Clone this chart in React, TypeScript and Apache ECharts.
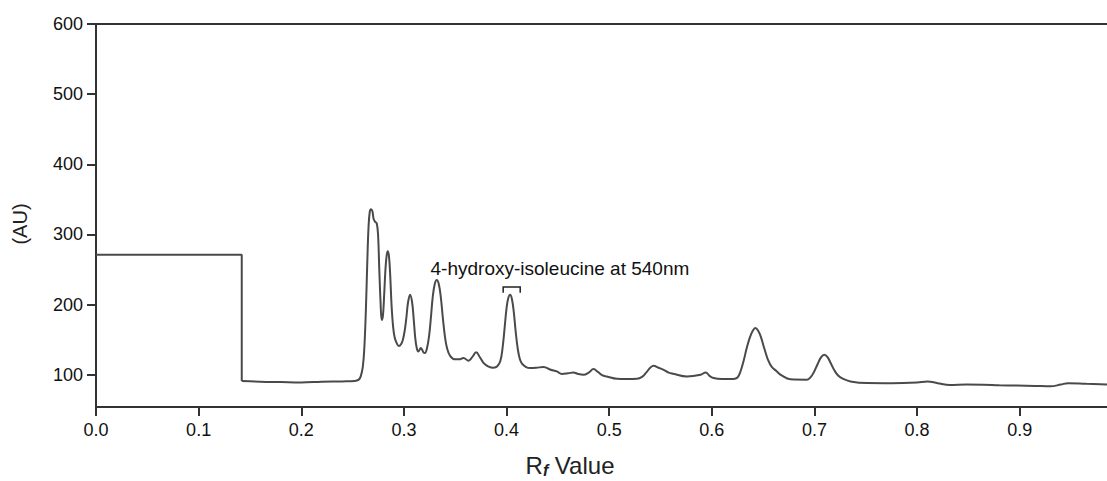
import React, { useEffect, useRef } from "react";
import * as echarts from "echarts";

// Step (plateau) part of the densitogram
const stepRf = [0, 0.142, 0.142];
const stepAU = [271, 271, 91];

// Peak trace (Rf value, absorbance units)
const rfValues = [
  0.142, 0.16, 0.18, 0.2, 0.22, 0.24, 0.252, 0.256,
  0.258, 0.26, 0.2615, 0.263, 0.2643, 0.2655, 0.2667, 0.268, 0.2693, 0.2705, 0.272, 0.2735,
  0.2748, 0.276, 0.2772, 0.2784, 0.2796, 0.2808, 0.282, 0.2832, 0.2843, 0.2855, 0.2867, 0.288,
  0.2895, 0.291, 0.293, 0.295, 0.297, 0.299, 0.301, 0.3025, 0.304, 0.306, 0.308, 0.3095, 0.311,
  0.3125, 0.314, 0.3165, 0.319, 0.3205, 0.3225, 0.3245, 0.3265, 0.328, 0.33, 0.332, 0.334, 0.336,
  0.338, 0.34, 0.342, 0.345, 0.35, 0.354, 0.358, 0.3629, 0.3665, 0.3704, 0.374, 0.3775, 0.382,
  0.3873, 0.391, 0.394, 0.396, 0.398, 0.4, 0.4018, 0.4035, 0.4052, 0.407, 0.409, 0.411, 0.413,
  0.415, 0.419, 0.423, 0.429, 0.436, 0.443, 0.449, 0.4539, 0.46, 0.465, 0.47, 0.475, 0.48, 0.4847,
  0.489, 0.4935, 0.4977, 0.5075, 0.517, 0.527, 0.532, 0.536, 0.54, 0.5432, 0.548, 0.553, 0.558,
  0.5624, 0.5757, 0.589, 0.594, 0.598, 0.6017, 0.61, 0.621, 0.625, 0.628, 0.631, 0.634, 0.637,
  0.64, 0.6423, 0.645, 0.648, 0.651, 0.6545, 0.658, 0.6633, 0.668, 0.6764, 0.6927, 0.6965, 0.6995,
  0.703, 0.7065, 0.7096, 0.7127, 0.716, 0.7195, 0.723, 0.728, 0.735, 0.751, 0.775, 0.8, 0.81, 0.82,
  0.832, 0.848, 0.8645, 0.88, 0.897, 0.915, 0.93, 0.94, 0.947, 0.965, 0.985,
];
const intensity = [
  91, 90, 89.5, 89, 90, 90.5, 91, 93,
  98, 112, 140, 195, 260, 310, 332, 336, 333, 322, 318, 316,
  300, 250, 205, 178, 185, 215, 250, 270, 276, 268, 240, 198,
  168, 153, 145, 141, 143, 150, 165, 183, 203, 214, 203, 180, 153,
  138, 133, 138, 132, 131, 138, 155, 185, 210, 229, 235, 229, 210,
  180, 154, 138, 127, 122, 122, 124, 120, 125, 132, 125, 117, 112,
  110, 112, 120, 137, 165, 195, 210, 214, 208, 190, 160, 136, 122,
  116, 111, 109.6, 110, 111, 107, 104.7, 101, 102, 103.3, 101, 100, 103, 108,
  104, 99, 97.6, 94.3, 94, 94.3, 97, 103, 110, 112.8, 110, 107, 103,
  101.4, 97.6, 100, 103.3, 98, 95.3, 94, 93.9, 96, 105, 120, 138, 153,
  163, 166.5, 163, 153, 138, 122, 112, 104.7, 99, 93.5, 93, 97, 104,
  115, 125, 128.5, 125, 116, 106, 99, 94, 90.5, 88.2, 88, 89, 90.5, 88,
  85.5, 86, 85.8, 85, 84.5, 84, 83.5, 86, 88, 87, 86,
];

const xTicks = [0, 0.1, 0.2, 0.3, 0.4, 0.5, 0.6, 0.7, 0.8, 0.9];
const yTicks = [100, 200, 300, 400, 500, 600];

const annotationText = "4-hydroxy-isoleucine at 540nm";
const annotationAnchor = [0.452, 252];
const bracketRf = [0.3967, 0.4133];
const bracketAU = [225, 217];

const FONT = "'Liberation Sans', Arial, sans-serif";
const AXIS_COLOR = "#333";
const LINE_COLOR = "#4a4a4a";

export default function App() {
  const ref = useRef<HTMLDivElement>(null);

  useEffect(() => {
    if (!ref.current) return;
    const chart = echarts.init(ref.current, null, { renderer: "svg" });

    const axisLine = { show: true, lineStyle: { color: AXIS_COLOR, width: 2 } };

    chart.setOption({
      animation: false,
      backgroundColor: "#fff",
      grid: { left: 96, right: 0, top: 24, bottom: 74 },
      xAxis: [
        {
          type: "value",
          min: 0,
          max: 0.985,
          axisLine: { ...axisLine, onZero: false },
          axisTick: { show: true, length: 9, customValues: xTicks, lineStyle: { color: AXIS_COLOR, width: 2 } },
          axisLabel: {
            customValues: xTicks,
            formatter: (v: number) => v.toFixed(1),
            color: "#111",
            fontFamily: FONT,
            fontSize: 18,
            margin: 14,
          },
          splitLine: { show: false },
        },
        {
          type: "value",
          position: "top",
          min: 0,
          max: 0.985,
          axisLine: { ...axisLine, onZero: false },
          axisTick: { show: false },
          axisLabel: { show: false },
          splitLine: { show: false },
        },
      ],
      yAxis: {
        type: "value",
        min: 54,
        max: 600,
        axisLine: { ...axisLine, onZero: false },
        axisTick: { show: true, length: 9, customValues: yTicks, lineStyle: { color: AXIS_COLOR, width: 2 } },
        axisLabel: {
          customValues: yTicks,
          color: "#111",
          fontFamily: FONT,
          fontSize: 18,
          margin: 13,
        },
        splitLine: { show: false },
      },
      series: [
        {
          type: "line",
          data: stepRf.map((x, i) => [x, stepAU[i]]),
          showSymbol: false,
          symbol: "none",
          lineStyle: { color: LINE_COLOR, width: 2 },
        },
        {
          type: "line",
          data: rfValues.map((x, i) => [x, intensity[i]]),
          showSymbol: false,
          symbol: "none",
          smooth: 0.4,
          lineStyle: { color: LINE_COLOR, width: 2 },
        },
      ],
    });

    const p = (x: number, y: number) =>
      chart.convertToPixel({ xAxisIndex: 0, yAxisIndex: 0 }, [x, y]) as number[];
    const txt = p(annotationAnchor[0], annotationAnchor[1]);
    const bl = p(bracketRf[0], bracketAU[1]);
    const tl = p(bracketRf[0], bracketAU[0]);
    const tr = p(bracketRf[1], bracketAU[0]);
    const br = p(bracketRf[1], bracketAU[1]);

    chart.setOption({
      graphic: [
        {
          type: "text",
          x: txt[0],
          y: txt[1],
          style: {
            text: annotationText,
            font: `19px ${FONT}`,
            fill: "#111",
            align: "center",
            verticalAlign: "middle",
          },
        },
        {
          type: "polyline",
          shape: { points: [bl, tl, tr, br] },
          style: { stroke: "#222", lineWidth: 1.5, fill: null },
        },
        {
          type: "text",
          x: 20,
          y: 224,
          rotation: Math.PI / 2,
          style: {
            text: "(AU)",
            font: `20px ${FONT}`,
            fill: "#222",
            align: "center",
            verticalAlign: "middle",
          },
        },
        {
          type: "text",
          x: 570,
          y: 465,
          style: {
            text: "{r|R}{f|f}{r| Value}",
            align: "center",
            verticalAlign: "middle",
            rich: {
              r: { fontFamily: FONT, fontSize: 24, fill: "#222", color: "#222" },
              f: {
                fontFamily: FONT,
                fontSize: 16,
                fontStyle: "italic",
                fontWeight: "bold",
                fill: "#222",
                color: "#222",
                padding: [10, 0, 0, 0],
              },
            },
          },
        },
      ],
    });

    return () => chart.dispose();
  }, []);

  return (
    <div
      ref={ref}
      style={{ position: "fixed", left: 0, top: 0, width: 1107, height: 481 }}
    />
  );
}
